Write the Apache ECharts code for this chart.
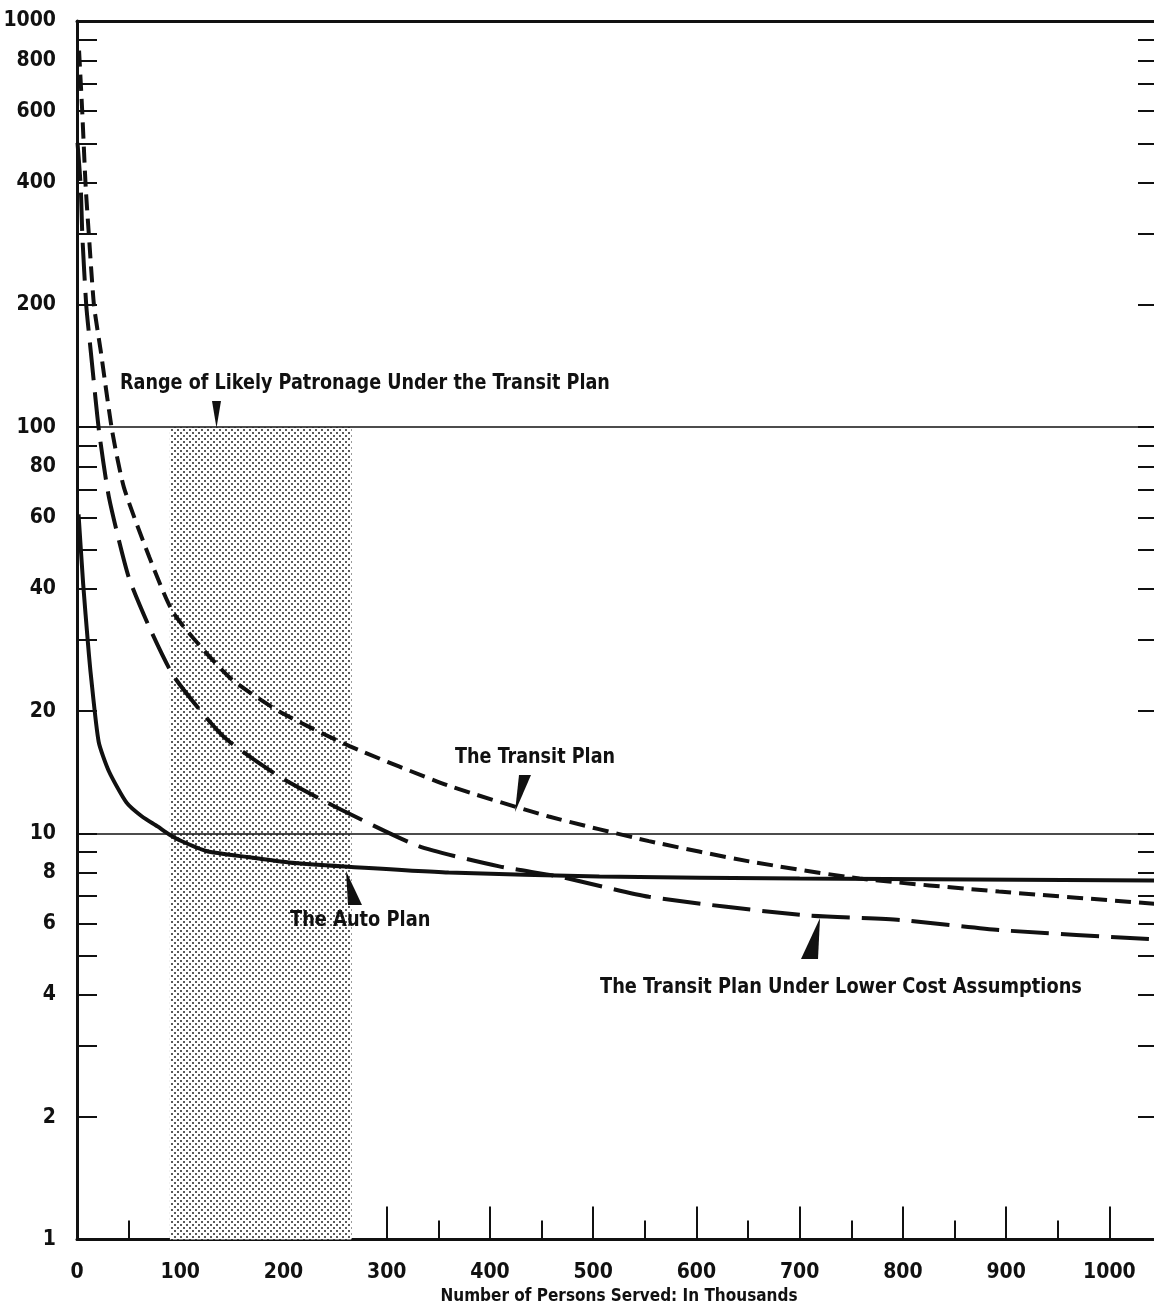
<!DOCTYPE html>
<html>
<head>
<meta charset="utf-8">
<script src="https://cdn.jsdelivr.net/npm/echarts@6/dist/echarts.min.js"></script>
<style>
html,body{margin:0;padding:0;background:#fff;}
#chart{width:1154px;height:1306px;}
</style>
</head>
<body>
<div id="chart"></div>
<script>
// ---------- data ----------
const xTickValues = [0,100,200,300,400,500,600,700,800,900,1000];
const xMinorTickValues = [50,150,250,350,450,550,650,750,850,950];
const yLabelValues = [1,2,4,6,8,10,20,40,60,80,100,200,400,600,800,1000];
const yTickValues = [1,2,3,4,5,6,7,8,9,10,20,30,40,50,60,70,80,90,100,200,300,400,500,600,700,800,900,1000];
const referenceLines = [10, 100];
const patronageRange = [90, 266];      // thousands of persons served
const patronageBandY = [1, 100];

const autoPlan = [[1.5,61],[6,41],[10.7,29.2],[13.6,24.3],[21,16.8],[31,14.2],[48,11.9],[63,11.0],[78,10.4],[89,9.95],[100,9.6],[125,9.05],[165,8.74],[205,8.48],[259,8.29],[360,8.01],[506,7.83],[700,7.74],[1050,7.65]];
const transitPlan = [[2,845],[5,603],[8.4,391],[11.6,295],[16.5,199],[23,154],[34,98],[45.5,71],[70,47.9],[94,34.7],[147,24.3],[196,19.95],[264,16.4],[360,13.1],[457,11.0],[554,9.57],[651,8.53],[758,7.74],[893,7.19],[1050,6.69]];
const transitLowCost = [[0.5,501],[3.6,391],[5.2,295],[9,199],[13.3,154],[21.3,98],[31,67.1],[50,42.8],[70,32.2],[94,24.3],[142,17.3],[196,13.8],[254,11.5],[331,9.3],[409,8.29],[467,7.83],[554,6.98],[700,6.3],[797,6.12],[893,5.78],[1050,5.47]];

const xAxisTitle = 'Number of Persons Served: In Thousands';
const notes = {
  range: 'Range of Likely Patronage Under the Transit Plan',
  transit: 'The Transit Plan',
  auto: 'The Auto Plan',
  lowCost: 'The Transit Plan Under Lower Cost Assumptions'
};

// ---------- styling ----------
const FONT = "'Liberation Sans Narrow','DejaVu Sans Condensed','Roboto Condensed','Liberation Sans',sans-serif";
const INK = '#111';

function stipple() {
  const c = document.createElement('canvas');
  c.width = 6; c.height = 6;
  const g = c.getContext('2d');
  g.fillStyle = '#ffffff'; g.fillRect(0,0,6,6);
  g.fillStyle = '#5a5a5a';
  g.fillRect(0,0,2,2);
  g.fillRect(3,3,2,2);
  return c;
}

const chart = echarts.init(document.getElementById('chart'), null, {renderer:'canvas'});
const fmt = v => String(Math.round(v));

const option = {
  animation: false,
  backgroundColor: '#fff',
  grid: {left: 77, top: 21, width: 1084, height: 1218.5, containLabel: false, outerBoundsMode: 'none'},
  xAxis: [
    {
      type: 'value', min: 0, max: 1050, position: 'bottom',
      axisLine: {show: true, onZero: false, lineStyle: {color: INK, width: 3}},
      axisTick: {show: true, inside: true, length: 33, customValues: xTickValues, lineStyle: {color: INK, width: 2}},
      axisLabel: {show: true, customValues: xTickValues, formatter: fmt, margin: 23,
        color: INK, fontFamily: FONT, fontWeight: 'bold', fontSize: 21},
      splitLine: {show: false},
      name: xAxisTitle, nameLocation: 'middle', nameGap: 49,
      nameTextStyle: {color: INK, fontFamily: FONT, fontWeight: 'bold', fontSize: 17}
    },
    {
      type: 'value', min: 0, max: 1050, position: 'bottom',
      axisLine: {show: false, onZero: false},
      axisTick: {show: true, inside: true, length: 19, customValues: xMinorTickValues, lineStyle: {color: INK, width: 2}},
      axisLabel: {show: false},
      splitLine: {show: false}
    },
    {
      type: 'value', min: 0, max: 1050, position: 'top',
      axisLine: {show: true, onZero: false, lineStyle: {color: INK, width: 3}},
      axisTick: {show: false}, axisLabel: {show: false}, splitLine: {show: false}
    }
  ],
  yAxis: [
    {
      type: 'log', logBase: 10, min: 1, max: 1000, position: 'left',
      axisLine: {show: true, onZero: false, lineStyle: {color: INK, width: 3}},
      axisTick: {show: true, inside: true, length: 20, customValues: yTickValues, lineStyle: {color: INK, width: 2}},
      axisLabel: {show: true, customValues: yLabelValues, formatter: fmt, margin: 21,
        color: INK, fontFamily: FONT, fontWeight: 'bold', fontSize: 21},
      splitLine: {show: false}, minorTick: {show: false}
    },
    {
      type: 'log', logBase: 10, min: 1, max: 1000, position: 'right',
      axisLine: {show: false, onZero: false},
      axisTick: {show: true, inside: true, length: 23, customValues: yTickValues, lineStyle: {color: INK, width: 2}},
      axisLabel: {show: false},
      splitLine: {show: false}
    }
  ],
  series: [
    {
      name: 'band', type: 'line', data: [], z: 1, silent: true,
      markArea: {
        silent: true,
        itemStyle: {color: {image: stipple(), repeat: 'repeat'}, borderWidth: 0},
        data: [[{xAxis: patronageRange[0], yAxis: patronageBandY[0]}, {xAxis: patronageRange[1], yAxis: patronageBandY[1]}]]
      },
      markLine: {
        silent: true, symbol: ['none','none'], label: {show: false},
        lineStyle: {color: INK, width: 1.5, type: 'solid'},
        data: referenceLines.map(v => ({yAxis: v}))
      }
    },
    {
      name: notes.auto, type: 'line', data: autoPlan, showSymbol: false, smooth: 0.2, z: 5,
      lineStyle: {color: INK, width: 4, type: 'solid'}
    },
    {
      name: notes.transit, type: 'line', data: transitPlan, showSymbol: false, smooth: 0.2, z: 5,
      lineStyle: {color: INK, width: 4, type: [16, 8]}
    },
    {
      name: notes.lowCost, type: 'line', data: transitLowCost, showSymbol: false, smooth: 0.2, z: 5,
      lineStyle: {color: INK, width: 4, type: [38, 12]}
    }
  ],
  graphic: [
    {type: 'text', x: 120, y: 383, scaleX: 0.89, z: 10, style: {text: notes.range, fill: INK, font: "bold 22px " + FONT, verticalAlign: 'middle'}},
    {type: 'polygon', z: 10, shape: {points: [[212,401],[221,401],[216.5,428]]}, style: {fill: INK}},
    {type: 'text', x: 455, y: 757, scaleX: 0.89, z: 10, style: {text: notes.transit, fill: INK, font: "bold 22px " + FONT, verticalAlign: 'middle'}},
    {type: 'polygon', z: 10, shape: {points: [[519,775],[531,775],[515,812]]}, style: {fill: INK}},
    {type: 'text', x: 290, y: 920, scaleX: 0.9, z: 10, style: {text: notes.auto, fill: INK, font: "bold 22px " + FONT, verticalAlign: 'middle'}},
    {type: 'polygon', z: 10, shape: {points: [[346,871],[362,905],[348,905]]}, style: {fill: INK}},
    {type: 'text', x: 600, y: 987, scaleX: 0.9, z: 10, style: {text: notes.lowCost, fill: INK, font: "bold 22px " + FONT, verticalAlign: 'middle'}},
    {type: 'polygon', z: 10, shape: {points: [[820,918],[818,959],[801,959]]}, style: {fill: INK}}
  ]
};
chart.setOption(option);
</script>
</body>
</html>
